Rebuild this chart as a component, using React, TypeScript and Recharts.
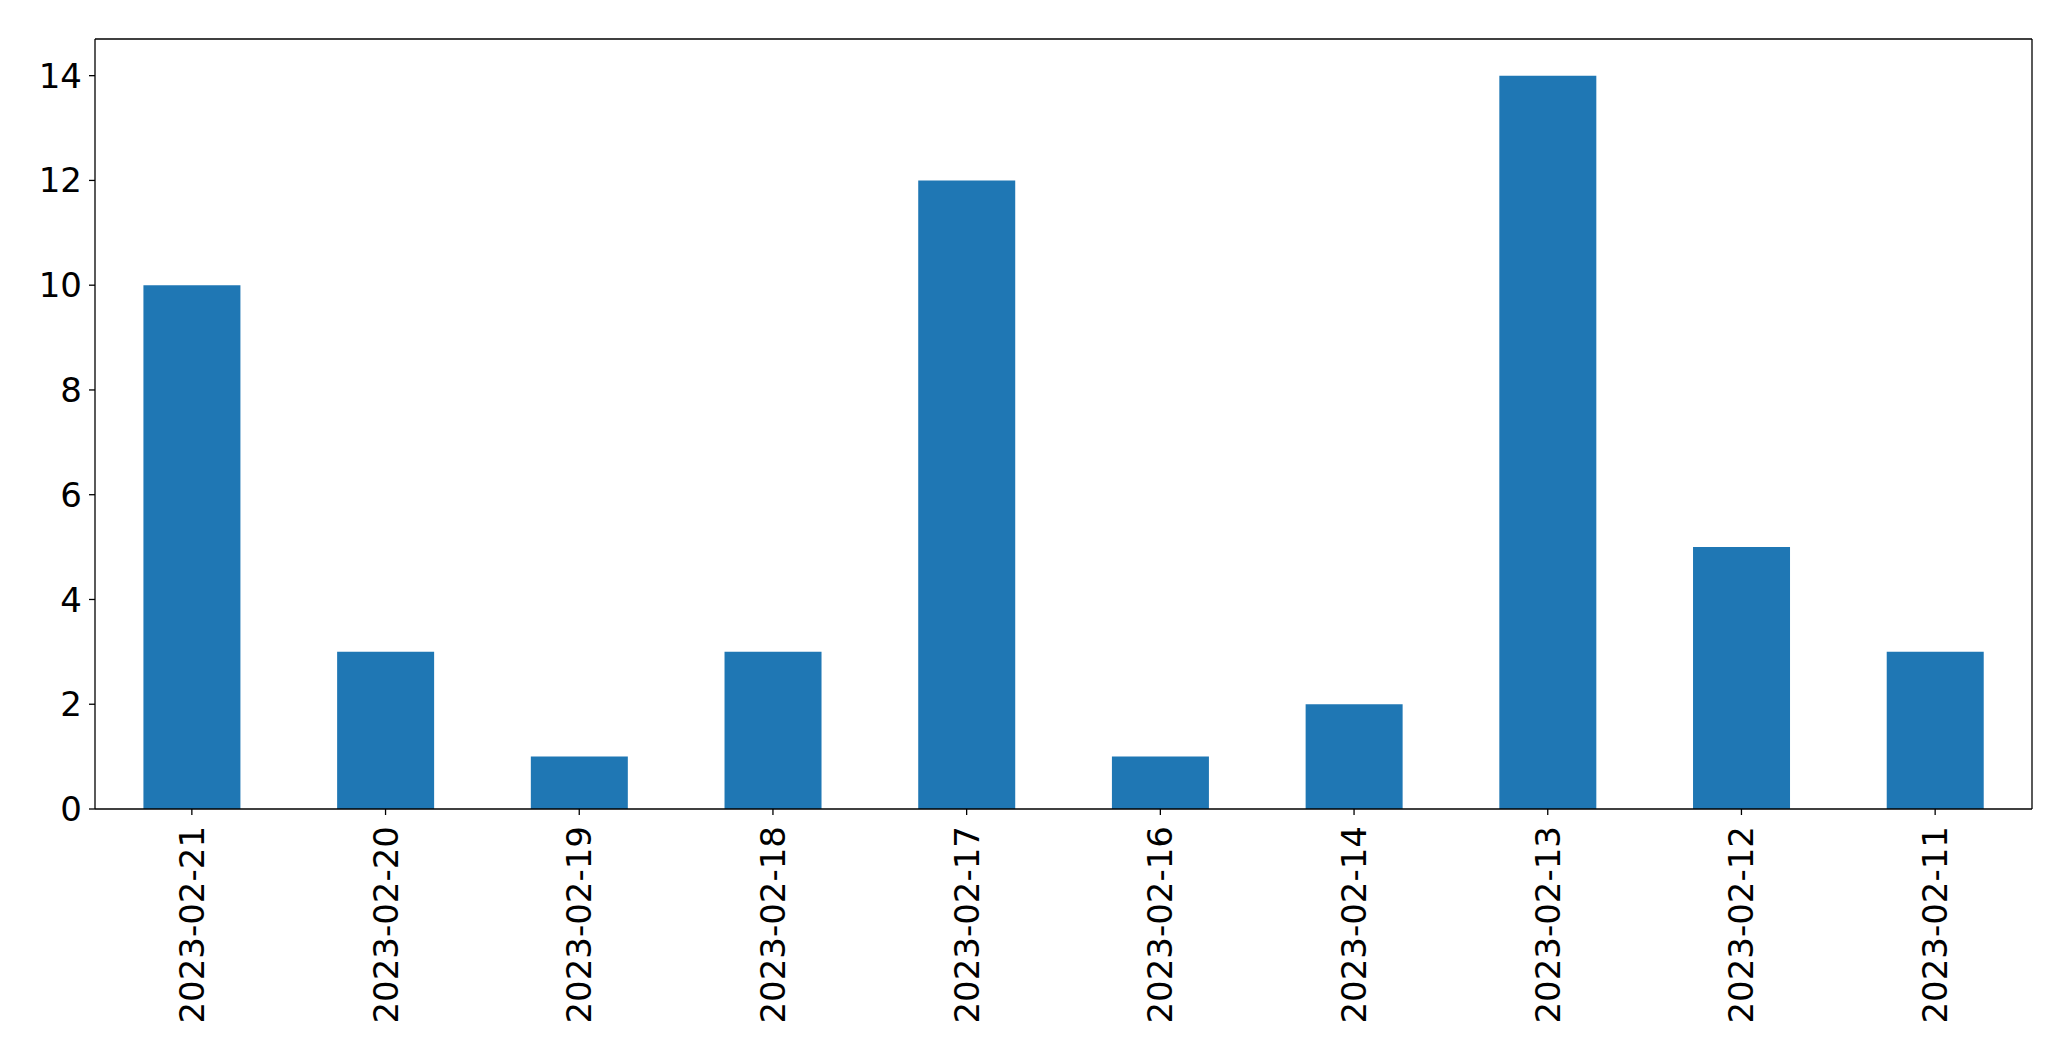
import React from 'react';
import { BarChart, Bar, XAxis, YAxis } from 'recharts';

const dates = [
  '2023-02-21', '2023-02-20', '2023-02-19', '2023-02-18', '2023-02-17',
  '2023-02-16', '2023-02-14', '2023-02-13', '2023-02-12', '2023-02-11'
];
const counts = [10, 3, 1, 3, 12, 1, 2, 14, 5, 3];
const yTicks = [0, 2, 4, 6, 8, 10, 12, 14];

const data = dates.map((d, i) => ({ date: d, count: counts[i] }));

const FONT = '"DejaVu Sans", sans-serif';
const AXIS = { stroke: '#000', strokeWidth: 1.3 };

// rotated date labels under the bars
const DateTick = ({ x, y, payload }: any) => (
  <text
    x={x}
    y={y}
    transform={`rotate(-90, ${x}, ${y})`}
    textAnchor="end"
    dominantBaseline="central"
    fontFamily={FONT}
    fontSize={34}
    fill="#000"
  >
    {payload.value}
  </text>
);

export default function App() {
  return (
    <div style={{ position: 'absolute', left: 0, top: 0, width: 2071, height: 1061, background: '#fff' }}>
      <style>{`body{margin:0}`}</style>
      <BarChart
        width={2071}
        height={1061}
        data={data}
        margin={{ top: 38, right: 38, left: 0, bottom: 0 }}
        barCategoryGap="25%"
      >
        <XAxis
          dataKey="date"
          height={252}
          interval={0}
          tickSize={6}
          tickMargin={11}
          tick={<DateTick />}
          axisLine={AXIS}
          tickLine={AXIS}
        />
        {/* top frame line */}
        <XAxis xAxisId="top" orientation="top" dataKey="date" height={1} tick={false} tickLine={false} axisLine={AXIS} />
        <YAxis
          width={95}
          domain={[0, 14.7]}
          ticks={yTicks}
          allowDataOverflow
          tickSize={6}
          tickMargin={7}
          tick={{ fontFamily: FONT, fontSize: 34, fill: '#000' }}
          axisLine={AXIS}
          tickLine={AXIS}
        />
        {/* right frame line */}
        <YAxis yAxisId="right" orientation="right" width={1} domain={[0, 14.7]} tick={false} tickLine={false} axisLine={AXIS} />
        <Bar dataKey="count" fill="#1f77b4" isAnimationActive={false} />
        <Bar dataKey="count" xAxisId="top" yAxisId="right" fill="none" legendType="none" isAnimationActive={false} />
      </BarChart>
    </div>
  );
}
